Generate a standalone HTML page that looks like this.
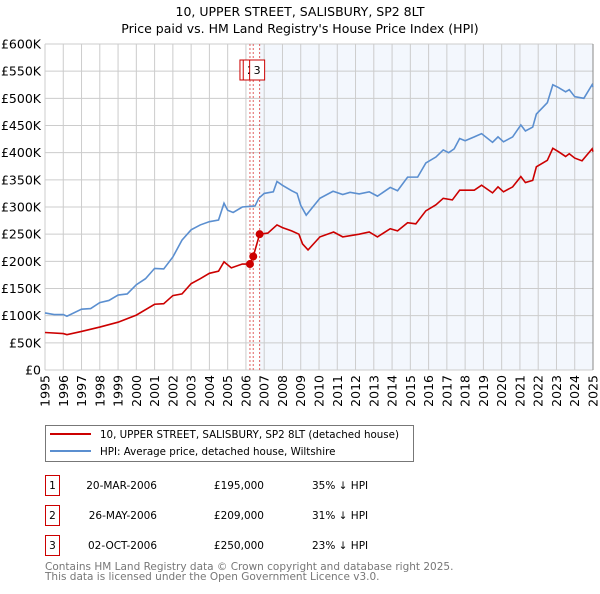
<!DOCTYPE html>
<html><head><meta charset="utf-8"><style>
body{margin:0;background:#fff;font-family:"DejaVu Sans","Liberation Sans",sans-serif;}
svg text{font-family:"DejaVu Sans","Liberation Sans",sans-serif;}
</style></head><body>
<svg id="c" width="600" height="590" xmlns="http://www.w3.org/2000/svg">
<text x="300" y="16" text-anchor="middle" font-size="12.5">10, UPPER STREET, SALISBURY, SP2 8LT</text>
<text x="300" y="33" text-anchor="middle" font-size="12.5">Price paid vs. HM Land Registry's House Price Index (HPI)</text>
<g id="plot"></g>
<g>
<rect x="45.5" y="425.5" width="368" height="36" fill="#fff" stroke="#777"/>
<line x1="50" y1="434" x2="91" y2="434" stroke="#cc0000" stroke-width="2"/>
<text x="100" y="438" font-size="10.3">10, UPPER STREET, SALISBURY, SP2 8LT (detached house)</text>
<line x1="50" y1="451" x2="91" y2="451" stroke="#5b8fd0" stroke-width="2"/>
<text x="100" y="455" font-size="10.3">HPI: Average price, detached house, Wiltshire</text>
</g>
<g id="table" font-size="10.5"></g>
<text x="45" y="570" font-size="10.5" fill="#777">Contains HM Land Registry data © Crown copyright and database right 2025.</text>
<text x="45" y="580" font-size="10.5" fill="#777">This data is licensed under the Open Government Licence v3.0.</text>
</svg>
<script>
const yTicks=[0,50,100,150,200,250,300,350,400,450,500,550,600];
const years=[1995,1996,1997,1998,1999,2000,2001,2002,2003,2004,2005,2006,2007,2008,2009,2010,2011,2012,2013,2014,2015,2016,2017,2018,2019,2020,2021,2022,2023,2024,2025];
const hpiT=[1995,1995.5,1996,1996.2,1997,1997.5,1998,1998.5,1999,1999.5,2000,2000.5,2001,2001.5,2002,2002.5,2003,2003.5,2004,2004.5,2004.8,2005,2005.3,2005.8,2006.5,2006.7,2007,2007.5,2007.7,2008,2008.5,2008.8,2009,2009.3,2010.05,2010.77,2011.3,2011.7,2012.2,2012.75,2013.2,2013.9,2014.3,2014.85,2015.4,2015.85,2016.4,2016.8,2017.1,2017.4,2017.7,2018.0,2018.5,2018.9,2019.5,2019.8,2020.1,2020.6,2021.05,2021.3,2021.7,2021.9,2022.5,2022.8,2023.1,2023.5,2023.7,2024.0,2024.5,2024.95,2025];
const hpiV=[105,102,102,99,112,113,124,128,138,140,157,168,187,186,208,239,258,267,273,276,307,294,290,300,302,316,325,328,347,340,330,325,303,285,316,329,323,327,324,328,320,336,330,355,355,381,392,405,400,407,426,422,429,435,419,429,420,429,451,440,447,471,492,525,520,512,516,503,500,525,521];
const saleT=[2006.22,2006.4,2006.75];
const saleV=[195,209,250];
const saleLabels=["1","2","3"];
const saleDates=["20-MAR-2006","26-MAY-2006","02-OCT-2006"];
const salePrices=["£195,000","£209,000","£250,000"];
const saleDiffs=["35% ↓ HPI","31% ↓ HPI","23% ↓ HPI"];
const ppT=[1995,1996,1996.2,1997,1998,1999,2000,2001,2001.5,2002,2002.5,2003,2003.5,2004,2004.5,2004.8,2005.2,2005.8,2006.22,2006.4,2006.75,2007.2,2007.7,2008,2008.5,2008.9,2009.1,2009.4,2010.05,2010.8,2011.3,2012.2,2012.75,2013.2,2013.9,2014.3,2014.85,2015.3,2015.85,2016.4,2016.8,2017.3,2017.7,2018.5,2018.9,2019.5,2019.8,2020.1,2020.6,2021.05,2021.3,2021.7,2021.9,2022.5,2022.8,2023.1,2023.5,2023.7,2024.0,2024.4,2024.95,2025];
const ppV=[69,67,65,71,79,88,101,121,122,137,140,159,168,178,182,199,188,195,195,209,250,252,267,262,256,250,232,221,245,254,245,250,254,245,260,256,271,269,293,304,316,313,331,331,340,326,337,328,337,356,345,349,374,386,408,402,393,398,390,385,407,402];
const X0=45,X1=593,Y0=370,Y1=44;
const xs=t=>X0+(t-1995)/30*(X1-X0);
const ys=v=>Y0-v/600*(Y0-Y1);
const NS="http://www.w3.org/2000/svg";
const plot=document.getElementById('plot');
function mk(tag,attrs,parent){const e=document.createElementNS(NS,tag);for(const k in attrs)e.setAttribute(k,attrs[k]);(parent||plot).appendChild(e);return e;}
let e;
e=mk('rect',{x:xs(saleT[2]),y:Y1,width:X1-xs(saleT[2]),height:Y0-Y1,fill:'#eef3fc',opacity:0.7});


yTicks.forEach(v=>{
 e=mk('line',{x1:X0,x2:X1,y1:ys(v),y2:ys(v),stroke:'#cccccc'});
 
 
 e=mk('text',{x:X0-4,y:ys(v)+4.5,'text-anchor':'end','font-size':12.5});
 
 
 e.textContent=v===0?'£0':'£'+v+'K';
});
years.forEach(y=>{
 e=mk('line',{x1:xs(y),x2:xs(y),y1:Y1,y2:Y0,stroke:'#cccccc'});
 
 
 e=mk('text',{x:0,y:0,'font-size':12.5,transform:`translate(${xs(y)+4.5},${Y0+5}) rotate(-90)`,'text-anchor':'end'});
 
 
 e.textContent=y;
});
e=mk('line',{x1:X1,x2:X1,y1:Y1,y2:Y0,stroke:'#888'});


saleT.forEach((t,i)=>{
 e=mk('line',{x1:xs(t),x2:xs(t),y1:Y1,y2:Y0,stroke:'#e06060','stroke-dasharray':'2,2'});
 
 
});
saleT.forEach((t,i)=>{
 const bx=xs(t)-10;
 e=mk('rect',{x:bx,y:60,width:15,height:20,fill:'#fff',stroke:'#cc0000'});
 
 
 e=mk('text',{x:bx+7.5,y:74,'text-anchor':'middle','font-size':11});
 
 
 e.textContent=saleLabels[i];
});
e=mk('polyline',{points:hpiT.map((t,i)=>xs(t)+','+ys(hpiV[i])).join(' '),fill:'none',stroke:'#5b8fd0','stroke-width':1.6});


e=mk('polyline',{points:ppT.map((t,i)=>xs(t)+','+ys(ppV[i])).join(' '),fill:'none',stroke:'#cc0000','stroke-width':1.6});


saleT.forEach((t,i)=>{
 e=mk('circle',{cx:xs(t),cy:ys(saleV[i]),r:4,fill:'#cc0000'});
 
 
});
const tbl=document.getElementById('table');
saleT.forEach((t,i)=>{
 const y=475+i*30;
 e=mk('rect',{x:45.5,y:y+0.5,width:14,height:20,fill:'#fff',stroke:'#cc0000'},tbl);
 
 
 const cells=[[52.5,saleLabels[i],'middle'],[157,saleDates[i],'end'],[264,salePrices[i],'end'],[312,saleDiffs[i],'start']];
 cells.forEach(c=>{
  e=mk('text',{x:c[0],y:y+14,'text-anchor':c[2]},tbl);
  
  
  e.textContent=c[1];
 });
});
</script>
</body></html>
